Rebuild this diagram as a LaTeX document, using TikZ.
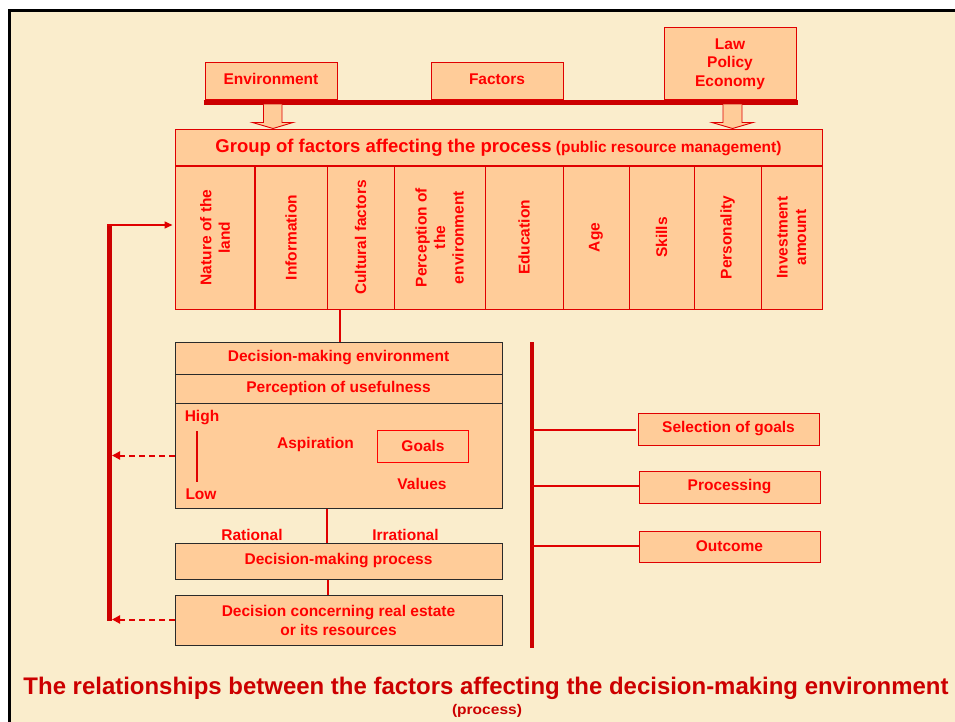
\documentclass[tikz,border=0pt]{standalone}
\usepackage{fontspec}
\setmainfont{Liberation Sans}
\usetikzlibrary{arrows.meta,calc}
\definecolor{peach}{HTML}{FFCC99}
\definecolor{parch}{HTML}{FAEDCC}
\definecolor{tred}{HTML}{FF0000}
\definecolor{dred}{HTML}{CC0000}
\definecolor{bred}{HTML}{E00000}
\definecolor{dline}{HTML}{2A2A2A}
\newcommand{\fsz}[2]{\fontsize{#1}{#2}\selectfont}
\begin{document}
\begin{tikzpicture}[x=1pt,y=-1pt,
  txt/.style={text=tred, font=\bfseries\fontsize{15.5}{18.5}\selectfont, inner sep=0pt, align=center},
  box/.style={txt, draw=bred, line width=1pt, fill=peach},
  dbox/.style={txt, draw=dline, line width=1pt, fill=peach},
  colbox/.style={box, line width=0.9pt, rotate=90, minimum width=143pt},
  link/.style={draw=bred, line width=1.5pt},
  bigbar/.style={draw=dred, line width=5pt},
  fbarrow/.style={draw=bred, line width=2pt, dash pattern=on 6pt off 4pt, -{Triangle[length=8pt,width=8pt]}},
  blockarrow/.style={draw=bred, line width=0.9pt, fill=peach}]
% canvas
\useasboundingbox (0,0) rectangle (955,722);
\fill[white] (0,0) rectangle (955,722);
\fill[parch] (9.5,10.5) rectangle (955,722);
\draw[black, line width=3pt] (9.5,722) -- (9.5,10.5) -- (955,10.5);

% top boxes
\node[box, minimum width=132pt, minimum height=37pt, text depth=5pt, text height=11pt] (env) at (271,81.5) {Environment};
\node[box, minimum width=132pt, minimum height=37pt, text depth=5pt, text height=11pt] (fac) at (497,81.5) {Factors};
\node[box, minimum width=132pt, minimum height=72pt] (law) at (730,64) {Law\\Policy\\Economy};
\coordinate (barl) at ($(env.south west)+(-1,2)$);
\draw[bigbar] (barl) -- (barl -| law.south east) -- ++(1,0);

% header
\node[box, minimum width=647pt, minimum height=36pt] (grp) at (498.5,148)
  {{\fsz{18.5}{22}Group of factors affecting the process} {\fsz{15.5}{18}(public resource management)}};

% block arrows
\draw[blockarrow] ($(env.south)+(-7.5,4)$) -- ++(0,18) -- ++(-11,0) -- ($(env.south)+(2,28)$) -- ++(20,-6) -- ++(-11,0) -- ++(0,-18);
\draw[blockarrow] ($(law.south)+(-7,4)$) -- ++(0,18) -- ++(-11,0) -- ($(law.south)+(2.5,28)$) -- ++(20.5,-6) -- ++(-11,0) -- ++(0,-18);

% columns
\node[colbox, minimum height=80pt] (c1) at (215,237.5) {Nature of the\\land};
\node[colbox, minimum height=72pt] (c2) at (291,237.5) {Information};
\node[colbox, minimum height=67pt] (c3) at (360.5,237.5) {Cultural factors};
\node[colbox, minimum height=91pt] (c4) at (439.5,237.5) {Perception of\\the\\environment};
\node[colbox, minimum height=78pt] (c5) at (524,237.5) {Education};
\node[colbox, minimum height=66pt] (c6) at (596,237.5) {Age};
\node[colbox, minimum height=65pt] (c7) at (661.5,237.5) {Skills};
\node[colbox, minimum height=67pt] (c8) at (727.5,237.5) {Personality};
\node[colbox, minimum height=61pt] (c9) at (791.5,237.5) {Investment\\amount};
\draw[draw=bred, line width=2pt] (c1.south east) -- (c1.south west);

% decision-making environment block
\node[dbox, minimum width=327pt, minimum height=32pt] (dme) at (338.5,358) {Decision-making environment};
\node[dbox, minimum width=327pt, minimum height=29pt] (pou) at (338.5,388.5) {Perception of usefulness};
\node[dbox, minimum width=327pt, minimum height=105pt] (asp) at (338.5,455.5) {};
\node[txt] (high) at (202,418) {High};
\node[txt] (low) at (201,494) {Low};
\draw[link, line width=2pt] ($(high.south)+(-5.5,6)$) -- ($(low.north)+(-4.5,-6)$);
\node[txt] (aspi) at (315.5,444) {Aspiration};
\node[box, fill=none, draw=tred, line width=0.8pt, minimum width=91pt, minimum height=32pt] (goals) at (423,446) {Goals};
\node[txt] (values) at (422,484) {Values};

\coordinate (gtop) at (340,309);
\draw[link] (gtop) -- (gtop |- dme.north);

% process
\node[txt] (rat) at (252,535) {Rational};
\node[txt] (irr) at (405.5,535) {Irrational};
\node[dbox, minimum width=327pt, minimum height=36pt] (dmp) at (338.5,561) {Decision-making process};
\node[dbox, minimum width=327pt, minimum height=50pt] (dc) at (338.5,620.5) {Decision concerning real estate\\or its resources};
\draw[link] (asp.south -| 327,0) -- (dmp.north -| 327,0);
\draw[link, line width=2.5pt] (dmp.south -| 328,0) -- (dc.north -| 328,0);

% feedback line
\coordinate (fbtop) at (109.5,224);
\coordinate (fbbot) at (109.5,620.5);
\coordinate (fbx) at (112,0);
\draw[bigbar] (fbtop) -- (fbbot);
\draw[draw=bred, line width=1.5pt, -{Triangle[length=8pt,width=7pt]}] ($(fbtop)+(-2.5,1)$) -- ($(fbtop -| grp.west)+(-2,1)$);
\draw[fbarrow] (asp.west) -- (asp.west -| fbx);
\draw[fbarrow] ($(dc.west)+(0,-1)$) -- ($(dc.west -| fbx)+(0,-1)$);

% right side
\coordinate (rbtop) at (531.5,342);
\coordinate (rbbot) at (531.5,648);
\draw[draw=dred, line width=4pt] (rbtop) -- (rbbot);
\node[box, minimum width=181pt, minimum height=32pt] (sel) at (728.5,429) {Selection of goals};
\node[box, minimum width=181pt, minimum height=32pt] (proc) at (729.5,487) {Processing};
\node[box, minimum width=181pt, minimum height=31pt] (out) at (729.5,546.5) {Outcome};
\draw[link] ($(sel.west -| rbtop)+(0,1)$) -- ($(sel.west)+(-2,1)$);
\draw[link] ($(proc.west -| rbtop)+(0,-1)$) -- ($(proc.west)+(0,-1)$);
\draw[link, line width=2.5pt] ($(out.west -| rbtop)+(0,-0.5)$) -- ($(out.west)+(0,-0.5)$);

% title
\node[text=dred, font=\bfseries\fsz{24}{28}, inner sep=0pt] (title) at (486,688)
  {\resizebox{925pt}{\height}{The relationships between the factors affecting the decision-making environment}};
\node[text=dred, font=\bfseries\fsz{14}{17}, inner sep=0pt] (sub) at (487,711)
  {\resizebox{70pt}{\height}{(process)}};
\end{tikzpicture}
\end{document}
